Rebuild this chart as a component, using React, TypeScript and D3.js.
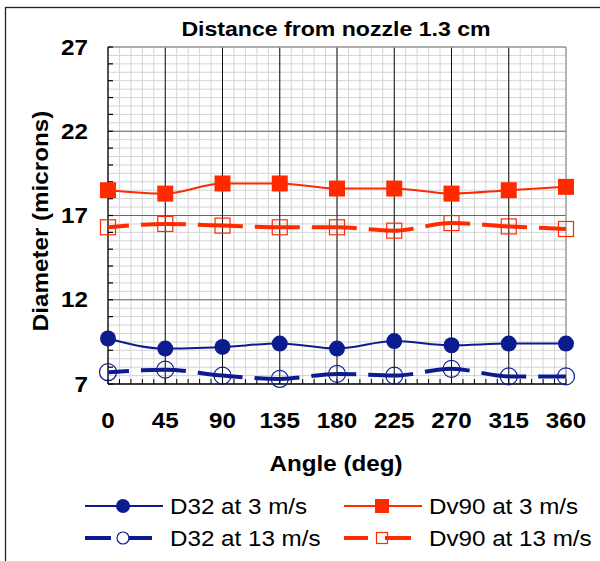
import React from "react";
import * as d3 from "d3";

const angles = [0, 45, 90, 135, 180, 225, 270, 315, 360];
const d32At3 = [9.7, 9.1, 9.2, 9.4, 9.1, 9.55, 9.3, 9.4, 9.4];
const d32At13 = [7.7, 7.85, 7.5, 7.3, 7.6, 7.5, 7.9, 7.45, 7.45];
const dv90At3 = [18.5, 18.3, 18.9, 18.9, 18.6, 18.6, 18.3, 18.5, 18.7];
const dv90At13 = [16.3, 16.5, 16.4, 16.3, 16.3, 16.1, 16.55, 16.35, 16.2];
const yTicks = [7, 12, 17, 22, 27];
const xTicks = [0, 45, 90, 135, 180, 225, 270, 315, 360];
const legendLabels = ["D32 at 3 m/s", "D32 at 13 m/s", "Dv90 at 3 m/s", "Dv90 at 13 m/s"];

const W = 600;
const H = 561;
const NAVY = "#0c1c8e";
const RED = "#ff2a00";
const SX = 1.1;
const FONT = "'Liberation Sans', Arial, sans-serif";

function ST({ x, y, size, bold, anchor = "start", rotate = 0, children }: any) {
  return (
    <g transform={`translate(${x},${y}) rotate(${rotate}) scale(${SX},1)`}>
      <text
        x={0}
        y={0}
        dy="0.35em"
        textAnchor={anchor}
        fontFamily={FONT}
        fontSize={size}
        fontWeight={bold ? "bold" : "normal"}
        fill="#000"
      >
        {children}
      </text>
    </g>
  );
}

export default function App() {
  const x = d3.scaleLinear().domain([0, 360]).range([108, 566]);
  const y = d3.scaleLinear().domain([7, 27]).range([384, 47]);
  const line = d3
    .line<number>()
    .x((_, i) => x(angles[i]))
    .y((v) => y(v))
    .curve(d3.curveMonotoneX);

  const minorY = d3.range(7, 27.01, 0.5);
  const minorX = d3.range(0, 360.01, 9);
  const intY = d3.range(7, 27.01, 1);

  const [x0, x1] = x.range();
  const [yb, yt] = y.range();

  return (
    <svg
      width={W}
      height={H}
      style={{ position: "absolute", left: 0, top: 0, background: "#fff" }}
    >
      <rect x={0} y={0} width={W} height={H} fill="#fff" />
      {/* outer frame */}
      <rect x={5.5} y={7.5} width={700} height={700} fill="none" stroke="#222" strokeWidth={1.3} />

      {/* minor grid */}
      {minorY.map((v) => (
        <line key={"my" + v} x1={x0} x2={x1} y1={y(v)} y2={y(v)} stroke="#d4d4d4" strokeWidth={1} />
      ))}
      {minorX.map((v) => (
        <line key={"mx" + v} x1={x(v)} x2={x(v)} y1={yt} y2={yb} stroke="#d4d4d4" strokeWidth={1} />
      ))}
      {/* major grid */}
      {[12, 17, 22].map((v) => (
        <line key={"My" + v} x1={x0} x2={x1} y1={y(v)} y2={y(v)} stroke="#6a6a6a" strokeWidth={1.2} />
      ))}
      {xTicks.slice(1, -1).map((v) => (
        <line key={"Mx" + v} x1={x(v)} x2={x(v)} y1={yt} y2={yb} stroke="#111" strokeWidth={1} />
      ))}
      {/* plot border top/right */}
      <line x1={x0} x2={x1} y1={yt} y2={yt} stroke="#999" strokeWidth={1.3} />
      <line x1={x1} x2={x1} y1={yt} y2={yb} stroke="#999" strokeWidth={1.3} />
      {/* axes */}
      <line x1={x0} x2={x0} y1={yt} y2={yb} stroke="#000" strokeWidth={1.3} />
      <line x1={x0} x2={x1} y1={yb} y2={yb} stroke="#000" strokeWidth={1.5} />
      {intY.map((v) => (
        <line key={"ty" + v} x1={x0} x2={x0 + 5} y1={y(v)} y2={y(v)} stroke="#000" strokeWidth={1.2} />
      ))}
      {minorX.map((v) => (
        <line key={"tx" + v} x1={x(v)} x2={x(v)} y1={yb} y2={yb - 5} stroke="#000" strokeWidth={1} />
      ))}

      {/* tick labels */}
      {yTicks.map((v) => (
        <ST key={"yl" + v} x={88} y={y(v)} size={22} bold anchor="end">
          {v}
        </ST>
      ))}
      {xTicks.map((v) => (
        <ST key={"xl" + v} x={x(v)} y={420} size={22} bold anchor="middle">
          {v}
        </ST>
      ))}

      {/* titles */}
      <ST x={336} y={29} size={21} bold anchor="middle">
        Distance from nozzle 1.3 cm
      </ST>
      <ST x={336} y={463} size={22} bold anchor="middle">
        Angle (deg)
      </ST>
      <ST x={40} y={221} size={22} bold anchor="middle" rotate={-90}>
        Diameter (microns)
      </ST>

      {/* series: D32 at 3 */}
      <path d={line(d32At3) || ""} fill="none" stroke={NAVY} strokeWidth={2} />
      {d32At3.map((v, i) => (
        <circle key={"c3" + i} cx={x(angles[i])} cy={y(v)} r={8} fill={NAVY} />
      ))}
      {/* D32 at 13 */}
      <path
        d={line(d32At13) || ""}
        fill="none"
        stroke={NAVY}
        strokeWidth={4}
        strokeDasharray="45,12"
        strokeDashoffset={24}
      />
      {d32At13.map((v, i) => (
        <circle key={"c13" + i} cx={x(angles[i])} cy={y(v)} r={8.5} fill="none" stroke={NAVY} strokeWidth={1.2} />
      ))}
      {/* Dv90 at 3 */}
      <path d={line(dv90At3) || ""} fill="none" stroke={RED} strokeWidth={2} />
      {dv90At3.map((v, i) => (
        <rect key={"s3" + i} x={x(angles[i]) - 8} y={y(v) - 8} width={16} height={16} fill={RED} />
      ))}
      {/* Dv90 at 13 */}
      <path
        d={line(dv90At13) || ""}
        fill="none"
        stroke={RED}
        strokeWidth={4}
        strokeDasharray="45,12"
        strokeDashoffset={24}
      />
      {dv90At13.map((v, i) => (
        <rect
          key={"s13" + i}
          x={x(angles[i]) - 7.5}
          y={y(v) - 7.5}
          width={15}
          height={15}
          fill="none"
          stroke={RED}
          strokeWidth={1.2}
        />
      ))}

      {/* legend */}
      <g>
        <line x1={85} x2={163} y1={506} y2={506} stroke={NAVY} strokeWidth={2} />
        <circle cx={123} cy={506} r={7} fill={NAVY} />
        <ST x={170} y={506} size={22}>{legendLabels[0]}</ST>

        <line x1={85} x2={111} y1={538} y2={538} stroke={NAVY} strokeWidth={4} />
        <line x1={126} x2={152} y1={538} y2={538} stroke={NAVY} strokeWidth={4} />
        <circle cx={123} cy={538} r={6} fill="#fff" stroke={NAVY} strokeWidth={1.2} />
        <ST x={170} y={538} size={22}>{legendLabels[1]}</ST>

        <line x1={344} x2={422} y1={506} y2={506} stroke={RED} strokeWidth={2} />
        <rect x={375} y={499} width={14} height={14} fill={RED} />
        <ST x={429} y={506} size={22}>{legendLabels[2]}</ST>

        <line x1={344} x2={368} y1={538} y2={538} stroke={RED} strokeWidth={4} />
        <rect x={376.5} y={532.5} width={11} height={11} fill="#fff" stroke={RED} strokeWidth={1.2} />
        <line x1={385} x2={411} y1={538} y2={538} stroke={RED} strokeWidth={4} />
        <ST x={429} y={538} size={22}>{legendLabels[3]}</ST>
      </g>
    </svg>
  );
}
